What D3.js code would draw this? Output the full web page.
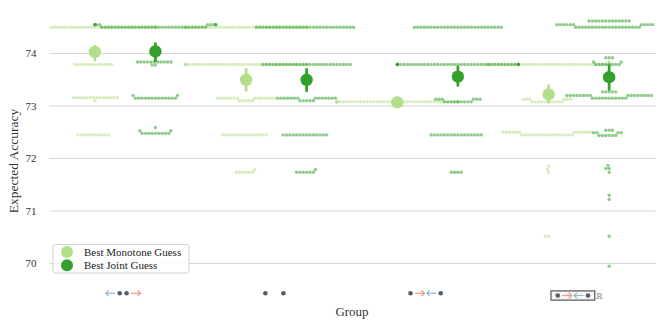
<!DOCTYPE html>
<html>
<head>
<meta charset="utf-8">
<script src="https://cdn.jsdelivr.net/npm/d3@7"></script>
<style>
  body { margin: 0; background: #fff; }
  text { font-family: "Liberation Serif", "DejaVu Serif", serif; }
</style>
</head>
<body>
<svg id="chart" width="665" height="328"></svg>
<script>
// categories
const groups = ['g1', 'g2', 'g3', 'g4']
const hues = ['Best Monotone Guess', 'Best Joint Guess']
const yTicks = [70, 71, 72, 73, 74]

// swarm data, one list per group: [value, number of runs with that value]
const monoRows = [
  [[74.49, 40], [73.78, 12], [73.09, 1], [73.15, 14], [72.44, 10]],
  [[74.49, 40], [73.78, 40], [73.09, 5], [73.14, 14], [72.44, 14], [71.73, 6], [71.78, 1]],
  [[73.07, 44]],
  [[73.78, 44], [73.83, 2], [73.07, 10], [73.12, 6], [72.44, 16], [72.49, 12],
   [71.73, 1], [71.79, 1], [71.85, 1], [70.51, 2]]
]
const jointRows = [
  [[74.49, 32], [74.54, 10], [73.77, 2], [73.83, 11], [73.14, 13], [73.19, 2],
   [72.47, 9], [72.52, 2], [72.58, 1]],
  [[74.49, 30], [73.78, 27], [73.09, 5], [73.14, 14], [72.44, 14], [71.73, 6], [71.78, 1]],
  [[74.49, 27], [73.78, 44], [73.07, 9], [73.12, 6], [72.44, 16], [71.73, 4]],
  [[74.49, 20], [74.54, 12], [74.61, 13], [73.78, 8], [73.83, 2], [73.91, 3],
   [73.14, 11], [73.19, 16], [73.26, 5], [72.43, 6], [72.48, 4], [72.53, 3],
   [71.73, 1], [71.8, 2], [71.86, 1], [71.21, 1], [71.29, 1], [70.51, 1], [69.94, 1]]
]

// point estimates with 95% intervals
const monoMean = [74.02, 73.49, 73.06, 73.21]
const monoLow = [73.84, 73.27, 73.06, 73.04]
const monoHigh = [74.15, 73.71, 73.06, 73.4]
const jointMean = [74.03, 73.49, 73.55, 73.54]
const jointLow = [73.83, 73.26, 73.36, 73.28]
const jointHigh = [74.2, 73.71, 73.76, 73.78]

// tick labels drawn as little glyph rows
const tickGlyphs = [
  ['larrow', 'dot', 'dot', 'rarrow'],
  ['dot', 'space', 'dot'],
  ['dot', 'rarrow', 'larrow', 'dot'],
  ['dot', 'rarrow', 'larrow', 'dot']
]
const tickBoxed = [false, false, false, true]

const colors = ['#b2df8a', '#33a02c']

const svg = d3.select('#chart')
const left = 49.5, right = 654.5

const x = d3.scaleBand().domain(groups).range([left, right])
const bw = x.bandwidth()
const xHue = d3.scaleBand().domain(hues).range([-bw * 0.4, bw * 0.4])
const y = d3.scaleLinear().domain([70, 74]).range([263, 53])

svg.append('clipPath').attr('id', 'plotclip')
  .append('rect').attr('x', left).attr('y', 0).attr('width', right - left).attr('height', 282)

// grid + y labels
const yAxis = svg.append('g')
  .attr('transform', `translate(${left},0)`)
  .call(d3.axisLeft(y).tickValues(yTicks).tickFormat(d3.format('d'))
    .tickSize(-(right - left) - 1).tickPadding(13))
yAxis.select('.domain').remove()
yAxis.selectAll('line').attr('stroke', '#d6d6d6').attr('stroke-width', 1.1)
yAxis.selectAll('text').attr('font-size', 11).attr('fill', '#333')

// seaborn-like beeswarm
const dotD = 3.35
function beeswarm(rows, cx, half) {
  const vals = []
  rows.forEach(([v, n]) => { for (let i = 0; i < n; i++) vals.push(v) })
  vals.sort((a, b) => a - b)
  const placed = []
  vals.forEach(v => {
    const py = y(v)
    const near = placed.filter(q => Math.abs(q.y - py) < dotD)
    const cands = [cx]
    near.forEach(q => {
      const dx = Math.sqrt(Math.max(dotD * dotD - (q.y - py) ** 2, 0))
      cands.push(q.x - dx, q.x + dx)
    })
    cands.sort((a, b) => Math.abs(a - cx) - Math.abs(b - cx))
    const px = cands.find(c => near.every(q => (q.x - c) ** 2 + (q.y - py) ** 2 >= dotD * dotD - 1e-6))
    placed.push({x: px, y: py})
  })
  placed.forEach(p => { p.x = Math.max(cx - half, Math.min(cx + half, p.x)) })
  return placed
}

const swarmG = svg.append('g').attr('clip-path', 'url(#plotclip)')
;[monoRows, jointRows].forEach((series, hi) => {
  series.forEach((rows, gi) => {
    const cx = x(groups[gi]) + bw / 2 + xHue(hues[hi]) + xHue.bandwidth() / 2
    const pts = beeswarm(rows, cx, bw * 0.4)
    swarmG.append('g').selectAll('circle')
      .data(pts).join('circle')
      .attr('cx', d => d.x).attr('cy', d => d.y).attr('r', 1.7)
      .attr('fill', colors[hi]).attr('fill-opacity', 0.55)
  })
})

// point estimates
const est = [[monoMean, monoLow, monoHigh], [jointMean, jointLow, jointHigh]]
est.forEach(([mean, lo, hi], h) => {
  const g = svg.append('g')
  groups.forEach((grp, i) => {
    const cx = x(grp) + bw / 2 + xHue(hues[h]) + xHue.bandwidth() / 2
    g.append('line').attr('x1', cx).attr('x2', cx)
      .attr('y1', y(lo[i])).attr('y2', y(hi[i]))
      .attr('stroke', colors[h]).attr('stroke-width', 2.7)
    g.append('circle').attr('cx', cx).attr('cy', y(mean[i])).attr('r', 6.2)
      .attr('fill', colors[h])
  })
})

// x axis with glyph tick labels
const defs = svg.append('defs')
const hatch = defs.append('pattern').attr('id', 'hatch').attr('patternUnits', 'userSpaceOnUse')
  .attr('width', 3).attr('height', 3).attr('patternTransform', 'rotate(45)')
hatch.append('rect').attr('width', 3).attr('height', 3).attr('fill', '#fff')
hatch.append('line').attr('x1', 0).attr('y1', 0).attr('x2', 0).attr('y2', 3)
  .attr('stroke', '#d0d0d0').attr('stroke-width', 1)

const xAxis = svg.append('g').attr('transform', 'translate(0,282)')
  .call(d3.axisBottom(x).tickSize(0).tickFormat(''))
xAxis.select('.domain').remove()

const glyphW = {dot: 4.6, larrow: 9.5, rarrow: 9.5, space: 9}
const gap = 2.2
xAxis.selectAll('.tick').each(function (d, i) {
  const t = d3.select(this)
  const toks = tickGlyphs[i]
  const total = d3.sum(toks, k => glyphW[k]) + gap * (toks.length - 1)
  const boxed = tickBoxed[i]
  const shift = boxed ? -6 : -2
  const cy = boxed ? 13.5 : 11.3
  let pos = -total / 2 + shift
  if (boxed) {
    t.append('rect').attr('x', pos - 4.5).attr('y', cy - 4.6)
      .attr('width', total + 9).attr('height', 9.2)
      .attr('fill', 'url(#hatch)').attr('stroke', '#555').attr('stroke-width', 1.2)
    t.append('text').attr('x', pos + total + 9).attr('y', cy + 3)
      .attr('font-size', 8).attr('fill', '#888').text('ℝ')
  }
  toks.forEach(k => {
    const w = glyphW[k]
    if (k === 'dot') {
      t.append('circle').attr('cx', pos + w / 2).attr('cy', cy).attr('r', 2.3).attr('fill', '#565e6c')
    } else if (k === 'rarrow' || k === 'larrow') {
      const c = k === 'rarrow' ? '#ec9a86' : '#8fbdd4'
      const x0 = k === 'rarrow' ? pos : pos + w
      const x1 = k === 'rarrow' ? pos + w : pos
      const s = k === 'rarrow' ? -1 : 1
      t.append('line').attr('x1', x0).attr('x2', x1).attr('y1', cy).attr('y2', cy)
        .attr('stroke', c).attr('stroke-width', 1.2)
      t.append('path').attr('d', `M${x1 + s * 3},${cy - 2.8}L${x1},${cy}L${x1 + s * 3},${cy + 2.8}`)
        .attr('fill', 'none').attr('stroke', c).attr('stroke-width', 1.2)
    }
    pos += w + gap
  })
})

// axis titles
svg.append('text').attr('x', (left + right) / 2).attr('y', 316)
  .attr('text-anchor', 'middle').attr('font-size', 13).attr('fill', '#333').text('Group')
svg.append('text').attr('transform', 'translate(18,161) rotate(-90)')
  .attr('text-anchor', 'middle').attr('font-size', 13.5).attr('fill', '#333').text('Expected Accuracy')

// legend
const lg = svg.append('g').attr('transform', 'translate(53,244.5)')
lg.append('rect').attr('width', 136).attr('height', 28.5).attr('rx', 2.5)
  .attr('fill', '#fff').attr('fill-opacity', 0.85).attr('stroke', '#d0d0d0')
hues.forEach((h, i) => {
  lg.append('circle').attr('cx', 14).attr('cy', 7.5 + i * 13.3).attr('r', 6).attr('fill', colors[i])
  lg.append('text').attr('x', 31).attr('y', 11.2 + i * 13.3).attr('font-size', 11)
    .attr('fill', '#222').text(h)
})
</script>
</body>
</html>
